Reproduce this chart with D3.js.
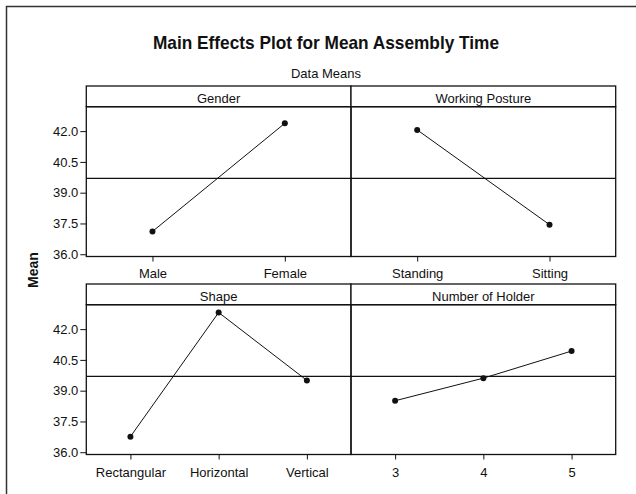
<!DOCTYPE html>
<html>
<head>
<meta charset="utf-8">
<script src="https://cdn.jsdelivr.net/npm/d3@7"></script>
<style>
  body { margin: 0; background: #fff; }
  text { font-family: "Liberation Sans Narrow", "Arial Narrow", "Liberation Sans", Arial, sans-serif; fill: #111; }
</style>
</head>
<body>
<div id="chart"></div>
<script>
// chart values
var genderLevels = ["Male", "Female"];
var genderMeans = [37.11, 42.38];

var postureLevels = ["Standing", "Sitting"];
var postureMeans = [42.06, 37.44];

var shapeLevels = ["Rectangular", "Horizontal", "Vertical"];
var shapeMeans = [36.76, 42.81, 39.50];

var holderLevels = ["3", "4", "5"];
var holderMeans = [38.51, 39.61, 40.93];

var grandMean = 39.70;
var yTicks = [36.0, 37.5, 39.0, 40.5, 42.0];

// panel list (built from the arrays above)
var panels = [
    { title: "Gender", levels: genderLevels, means: genderMeans, col: 0, row: 0 },
    { title: "Working Posture", levels: postureLevels, means: postureMeans, col: 1, row: 0 },
    { title: "Shape", levels: shapeLevels, means: shapeMeans, col: 0, row: 1 },
    { title: "Number of Holder", levels: holderLevels, means: holderMeans, col: 1, row: 1 }
];

// svg size
var svgWidth = 636;
var svgHeight = 494;

// panel geometry
var colX = [86.3, 351];
var panelW = 264.7;
var rowTop = [86, 284];
var stripH = 20.7;
var plotH = 149.8;
var labelPad = [7.5, 8.5];

var svg = d3.select("#chart")
    .append("svg")
    .attr("width", svgWidth)
    .attr("height", svgHeight);

// outer frame (runs past the picture edge like the original)
svg.append("rect")
    .attr("x", 6.5)
    .attr("y", 6.5)
    .attr("width", 660)
    .attr("height", 520)
    .attr("fill", "none")
    .attr("stroke", "#333")
    .attr("stroke-width", 1.5);

// titles
svg.append("text")
    .attr("x", 326)
    .attr("y", 49)
    .attr("text-anchor", "middle")
    .attr("font-size", "18.5px")
    .attr("font-weight", "bold")
    .attr("textLength", 346)
    .attr("lengthAdjust", "spacingAndGlyphs")
    .text("Main Effects Plot for Mean Assembly Time");

svg.append("text")
    .attr("x", 326)
    .attr("y", 78)
    .attr("text-anchor", "middle")
    .attr("font-size", "13px")
    .text("Data Means");

// y label
svg.append("text")
    .attr("transform", "translate(38, 270) rotate(-90)")
    .attr("text-anchor", "middle")
    .attr("font-size", "14px")
    .attr("font-weight", "bold")
    .text("Mean");

panels.forEach(function(p) {
    var x0 = colX[p.col];
    var top = rowTop[p.row];
    var plotTop = top + stripH;
    var plotBottom = plotTop + plotH;

    var xScale = d3.scalePoint()
        .domain(p.levels)
        .range([x0, x0 + panelW])
        .padding(0.5);

    var yScale = d3.scaleLinear()
        .domain([35.89, 43.19])
        .range([plotBottom, plotTop]);

    var g = svg.append("g");

    // strip header
    g.append("rect")
        .attr("x", x0)
        .attr("y", top)
        .attr("width", panelW)
        .attr("height", stripH)
        .attr("fill", "#fff")
        .attr("stroke", "#111")
        .attr("stroke-width", 1.3);

    g.append("text")
        .attr("x", x0 + panelW / 2)
        .attr("y", top + 17)
        .attr("text-anchor", "middle")
        .attr("font-size", "13px")
        .text(p.title);

    // grand mean reference line
    g.append("line")
        .attr("x1", x0)
        .attr("x2", x0 + panelW)
        .attr("y1", yScale(grandMean))
        .attr("y2", yScale(grandMean))
        .attr("stroke", "#111")
        .attr("stroke-width", 1.2);

    // plot frame
    g.append("rect")
        .attr("x", x0)
        .attr("y", plotTop)
        .attr("width", panelW)
        .attr("height", plotH)
        .attr("fill", "none")
        .attr("stroke", "#111")
        .attr("stroke-width", 1.3);

    // bottom axis
    var xAxis = g.append("g")
        .attr("transform", `translate(0, ${plotBottom})`)
        .call(d3.axisBottom(xScale).tickSize(5).tickPadding(labelPad[p.row]));
    xAxis.select(".domain").remove();
    xAxis.selectAll("line").attr("stroke", "#111");
    xAxis.selectAll("text")
        .attr("font-size", "13px")
        .attr("font-family", null)
        .attr("fill", "#111");

    // left axis on the first column only
    if (p.col === 0) {
        var yAxis = g.append("g")
            .attr("transform", `translate(${x0}, 0)`)
            .call(d3.axisLeft(yScale).tickValues(yTicks).tickFormat(d3.format(".1f")).tickSize(6).tickPadding(2));
        yAxis.select(".domain").remove();
        yAxis.selectAll("line").attr("stroke", "#111");
        yAxis.selectAll("text")
            .attr("font-size", "13px")
            .attr("font-family", null)
            .attr("fill", "#111");
    }

    // effect line and points
    var pts = p.levels.map(function(l, i) { return { level: l, mean: p.means[i] }; });

    var line = d3.line()
        .x(d => xScale(d.level))
        .y(d => yScale(d.mean));

    g.append("path")
        .datum(pts)
        .attr("d", line)
        .attr("fill", "none")
        .attr("stroke", "#111")
        .attr("stroke-width", 1);

    g.selectAll("circle")
        .data(pts)
        .enter()
        .append("circle")
        .attr("cx", d => xScale(d.level))
        .attr("cy", d => yScale(d.mean))
        .attr("r", 3)
        .attr("fill", "#111");
});
</script>
</body>
</html>
